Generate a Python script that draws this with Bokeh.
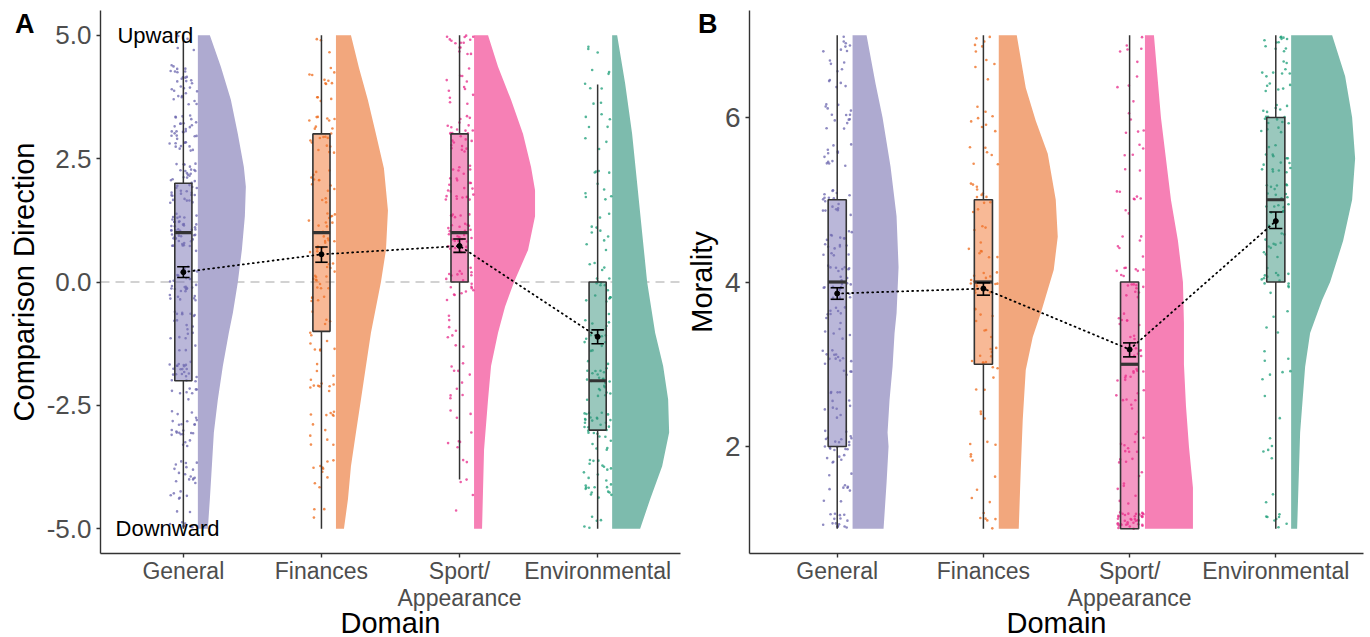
import numpy as np
from bokeh.plotting import figure
from bokeh.models import Range1d, Span, FixedTicker, LinearAxis
from bokeh.layouts import row
from bokeh.embed import file_html
from bokeh.resources import INLINE
from bokeh.core.properties import value

FONT = "Liberation Sans"

# ---------------- categories ----------------
DOMAINS = ["General", "Finances", "Sport/\nAppearance", "Environmental"]
XPOS = [1, 2, 3, 4]

# ---------------- Panel A: Comparison Direction ----------------
A_LEVELS = [-5, -4, -3, -2, -1, 0, 1, 2, 3, 4, 5]
A_COUNTS_GENERAL = [10, 22, 25, 30, 20, 30, 45, 40, 35, 30, 4]
A_COUNTS_FINANCES = [3, 10, 12, 12, 12, 20, 22, 14, 21, 13, 3]
A_COUNTS_SPORT = [1, 5, 8, 10, 8, 20, 30, 25, 25, 12, 15]
A_COUNTS_ENV = [5, 25, 30, 25, 15, 18, 10, 10, 8, 8, 3]

A_BOX_LOW = [-5, -5, -4, -5]
A_BOX_Q1 = [-2, -1, 0, -3]
A_BOX_MED = [1, 1, 1, -2]
A_BOX_Q3 = [2, 3, 3, 0]
A_BOX_HIGH = [5, 5, 5, 4]

A_MEAN = [0.20, 0.56, 0.73, -1.11]
A_CI_LOW = [0.09, 0.40, 0.60, -1.25]
A_CI_HIGH = [0.31, 0.71, 0.87, -0.97]

# half-violin density (relative widths) read at y values
A_VIO_Y_GENERAL = [5, 4.36, 3.69, 3.0, 2.33, 1.93, 1.33, 0.65, 0, -0.63, -1.03, -1.7, -2.38, -3.05, -3.73, -4.4, -5]
A_VIO_D_GENERAL = [12, 23, 33, 40, 46, 48, 47, 44, 40, 35, 31, 25, 20, 16, 14, 12, 10]
A_VIO_Y_FINANCES = [5, 4.34, 3.68, 3.0, 2.3, 1.45, 0.65, 0, -1.03, -1.7, -2.38, -3.05, -3.73, -4.4, -5]
A_VIO_D_FINANCES = [15, 23, 32, 40, 48, 52, 50, 45, 35, 30, 25, 20, 15, 12, 8]
A_VIO_Y_SPORT = [5, 4.36, 3.69, 3.0, 2.33, 1.86, 1.33, 0.65, 0, -0.5, -1.03, -1.7, -2.38, -3.4, -5]
A_VIO_D_SPORT = [14, 24, 37, 49, 57, 61, 61, 54, 40, 31, 24, 17, 14, 10, 8]
A_VIO_Y_ENV = [5, 4.02, 3.0, 2.0, 1.0, 0, -1.03, -1.7, -2.38, -3.05, -3.73, -4.4, -5]
A_VIO_D_ENV = [5, 13, 20, 25, 30, 35, 43, 51, 56, 57, 50, 38, 28]

# ---------------- Panel B: Morality ----------------
B_LEVELS = [1, 1.5, 2, 2.5, 3, 3.5, 4, 4.5, 5, 5.5, 6, 6.5, 7]
B_COUNTS_GENERAL = [16, 10, 24, 12, 16, 14, 24, 18, 18, 12, 14, 10, 8]
B_COUNTS_FINANCES = [6, 4, 6, 5, 12, 8, 16, 10, 12, 6, 8, 4, 6]
B_COUNTS_SPORT = [38, 8, 14, 8, 16, 10, 18, 6, 8, 6, 6, 4, 5]
B_COUNTS_ENV = [8, 2, 5, 2, 7, 4, 14, 12, 20, 16, 18, 14, 12]

B_BOX_LOW = [1, 1, 1, 1]
B_BOX_Q1 = [2, 3, 1, 4]
B_BOX_MED = [4, 4, 3, 5]
B_BOX_Q3 = [5, 5, 4, 6]
B_BOX_HIGH = [7, 7, 7, 7]

B_MEAN = [3.86, 3.92, 3.18, 4.74]
B_CI_LOW = [3.79, 3.84, 3.09, 4.65]
B_CI_HIGH = [3.93, 3.99, 3.26, 4.85]

B_VIO_Y_GENERAL = [7.0, 6.41, 6.0, 5.4, 4.8, 4.18, 3.62, 3.38, 2.97, 2.57, 2.17, 2.0, 1.56, 1.0]
B_VIO_D_GENERAL = [14, 23, 30, 38, 44, 46, 44, 42, 40, 37, 35, 36, 34, 31]
B_VIO_Y_FINANCES = [7.0, 6.36, 5.96, 5.56, 5.0, 4.55, 4.15, 3.62, 3.33, 2.93, 2.33, 1.72, 1.0]
B_VIO_D_FINANCES = [18, 27, 37, 49, 57, 59, 55, 42, 34, 27, 24, 22, 20]
B_VIO_Y_SPORT = [7, 6, 5, 4.5, 4, 3.5, 3, 2.5, 2, 1.5, 1]
B_VIO_D_SPORT = [9, 16, 26, 33, 38, 39, 39, 41, 44, 48, 48]
B_VIO_Y_ENV = [7, 6.5, 6, 5.5, 5, 4.5, 4, 3.78, 3.38, 2.97, 2.17, 1.0]
B_VIO_D_ENV = [41, 54, 61, 64, 61, 52, 39, 31, 19, 14, 9, 6]

# ---------------- styles ----------------
VIOLIN_COLORS = ["#AEAAD0", "#F2A77D", "#F680B5", "#7DBBAD"]
BOX_BASE = ["#7570B3", "#F1732D", "#EC3189", "#36917C"]
POINT_COLORS = ["#6A64AE", "#EE6A1A", "#E7298A", "#1B9E77"]
AXIS_COLOR = "#333333"
TICK_TEXT = "#4D4D4D"


def hash01(i, salt):
    # deterministic scatter offsets for the jitter (layout only)
    v = np.sin(i * 12.9898 + salt * 78.233) * 43758.5453
    return v - np.floor(v)


def jitter_points(levels, counts, center, jx, jy, start):
    xs, ys = [], []
    lo, hi = min(levels), max(levels)
    k = start
    for lev, c in zip(levels, counts):
        i = np.arange(k, k + c, dtype=float)
        k += c
        dx = (hash01(i, 1.0) - 0.5) * 2 * jx
        dy = (hash01(i, 2.0) - 0.5) * 2 * jy
        if lev == lo:
            dy = np.abs(dy)
        elif lev == hi:
            dy = -np.abs(dy)
        xs.extend(center + dx)
        ys.extend(lev + dy)
    return xs, ys


def make_panel(ymin, ymax, yticks, ylabels, ytitle, left_border, right_border, frame_w, ytick_size):
    p = figure(frame_width=frame_w, frame_height=543,
               x_range=Range1d(0.4, 4.6), y_range=Range1d(ymin, ymax),
               output_backend="svg", toolbar_location=None,
               min_border_left=left_border, min_border_right=right_border,
               min_border_top=10, min_border_bottom=84)
    p.background_fill_color = "white"
    p.border_fill_color = "white"
    p.outline_line_color = None
    p.grid.visible = False
    p.xaxis.ticker = FixedTicker(ticks=XPOS)
    p.xaxis.major_label_overrides = {x: d for x, d in zip(XPOS, DOMAINS)}
    p.yaxis.ticker = FixedTicker(ticks=yticks)
    p.yaxis.major_label_overrides = {t: l for t, l in zip(yticks, ylabels)}
    for ax in (p.xaxis[0], p.yaxis[0]):
        ax.axis_line_color = AXIS_COLOR
        ax.axis_line_width = 1.4
        ax.major_tick_line_color = AXIS_COLOR
        ax.major_tick_line_width = 1.4
        ax.major_tick_out = 4
        ax.major_tick_in = 0
        ax.minor_tick_out = 0
        ax.minor_tick_in = 0
        ax.major_label_text_color = TICK_TEXT
        ax.major_label_text_font = FONT
        ax.axis_label_text_font = FONT
        ax.axis_label_text_font_style = "normal"
        ax.axis_label_text_color = "black"
        ax.axis_label_text_font_size = "29px"
    p.xaxis.major_label_text_font_size = "23px"
    p.xaxis.major_label_text_line_height = 1.05
    p.xaxis.major_label_standoff = 0
    p.xaxis.axis_label = "Domain"
    p.xaxis.axis_label_standoff = -7
    p.yaxis.major_label_text_font_size = ytick_size
    p.yaxis.major_label_standoff = 5
    p.yaxis.axis_label = ytitle
    p.yaxis.axis_label_standoff = 4
    return p


def add_panel_letter(p, letter, ypos, standoff):
    # an extra, line-less axis whose single tick label is the panel letter
    ax = LinearAxis(ticker=FixedTicker(ticks=[ypos]), major_label_overrides={ypos: letter},
                    axis_line_color=None, major_tick_line_color=None, minor_tick_line_color=None,
                    major_tick_out=0, major_tick_in=0, minor_tick_out=0, minor_tick_in=0,
                    major_label_standoff=standoff, major_label_text_font=FONT,
                    major_label_text_font_size="27px", major_label_text_font_style="bold",
                    major_label_text_color="black")
    p.add_layout(ax, "left")


def draw(p, vio_ys, vio_ds, vio_scale, counts_list, levels, jy,
         lows, q1s, meds, q3s, highs, means, cil, cih):
    off = 0.105
    # violins
    for i, (vy, vd) in enumerate(zip(vio_ys, vio_ds)):
        x0 = XPOS[i] + off
        xs = [x0] + [x0 + d * vio_scale for d in vd] + [x0]
        ys = [vy[0]] + list(vy) + [vy[-1]]
        p.patch(xs, ys, fill_color=VIOLIN_COLORS[i], line_color=None)
    # jittered points
    start = 1
    for i, cnt in enumerate(counts_list):
        xs, ys = jitter_points(levels, cnt, XPOS[i], 0.1, jy, start)
        start += sum(cnt)
        p.scatter(xs, ys, size=2.6, fill_color=POINT_COLORS[i], line_color=None, fill_alpha=0.75)
    # boxplots
    bw = 0.062
    p.segment(XPOS, q3s, XPOS, highs, line_color=AXIS_COLOR, line_width=1.5)
    p.segment(XPOS, lows, XPOS, q1s, line_color=AXIS_COLOR, line_width=1.5)
    p.quad(left=[x - bw for x in XPOS], right=[x + bw for x in XPOS], bottom=q1s, top=q3s,
           fill_color=BOX_BASE, fill_alpha=0.5, line_color=AXIS_COLOR, line_width=1.6)
    p.segment([x - bw for x in XPOS], meds, [x + bw for x in XPOS], meds,
              line_color=AXIS_COLOR, line_width=3.2)
    # means line and error bars
    p.line(XPOS, means, line_color="black", line_width=1.8, line_dash="1 4", line_cap="round")
    cw = 0.045
    p.segment(XPOS, cil, XPOS, cih, line_color="black", line_width=1.6)
    p.segment([x - cw for x in XPOS], cil, [x + cw for x in XPOS], cil, line_color="black", line_width=1.6)
    p.segment([x - cw for x in XPOS], cih, [x + cw for x in XPOS], cih, line_color="black", line_width=1.6)
    p.scatter(XPOS, means, size=5, fill_color="black", line_color="black")


# ---------- Panel A ----------
pA = make_panel(-5.5, 5.5, [-5, -2.5, 0, 2.5, 5], ["-5.0", "-2.5", "0.0", "2.5", "5.0"],
                "Comparison Direction", 100, 2, 580, "26px")
pA.add_layout(Span(location=0, dimension="width", line_color="#C4C4C4", line_width=1.6,
                   line_dash="9 6", level="underlay"))
draw(pA,
     [A_VIO_Y_GENERAL, A_VIO_Y_FINANCES, A_VIO_Y_SPORT, A_VIO_Y_ENV],
     [A_VIO_D_GENERAL, A_VIO_D_FINANCES, A_VIO_D_SPORT, A_VIO_D_ENV], 1 / 138.1,
     [A_COUNTS_GENERAL, A_COUNTS_FINANCES, A_COUNTS_SPORT, A_COUNTS_ENV], A_LEVELS, 0.4,
     A_BOX_LOW, A_BOX_Q1, A_BOX_MED, A_BOX_Q3, A_BOX_HIGH, A_MEAN, A_CI_LOW, A_CI_HIGH)
pA.text(x=[0.523, 0.509], y=[5.0, -5.0], text=["Upward", "Downward"],
        text_font=value(FONT), text_font_size="22px", text_color="black",
        text_align="left", text_baseline="middle")
add_panel_letter(pA, "A", 5.22, -30)

# ---------- Panel B ----------
pB = make_panel(0.7, 7.3, [2, 4, 6], ["2", "4", "6"], "Morality", 67, 5, 614, "28px")
draw(pB,
     [B_VIO_Y_GENERAL, B_VIO_Y_FINANCES, B_VIO_Y_SPORT, B_VIO_Y_ENV],
     [B_VIO_D_GENERAL, B_VIO_D_FINANCES, B_VIO_D_SPORT, B_VIO_D_ENV], 1 / 146.2,
     [B_COUNTS_GENERAL, B_COUNTS_FINANCES, B_COUNTS_SPORT, B_COUNTS_ENV], B_LEVELS, 0.2,
     B_BOX_LOW, B_BOX_Q1, B_BOX_MED, B_BOX_Q3, B_BOX_HIGH, B_MEAN, B_CI_LOW, B_CI_HIGH)
add_panel_letter(pB, "B", 7.13, -35)

layout = row(pA, pB)
open("out.html", "w").write(file_html(layout, INLINE))
